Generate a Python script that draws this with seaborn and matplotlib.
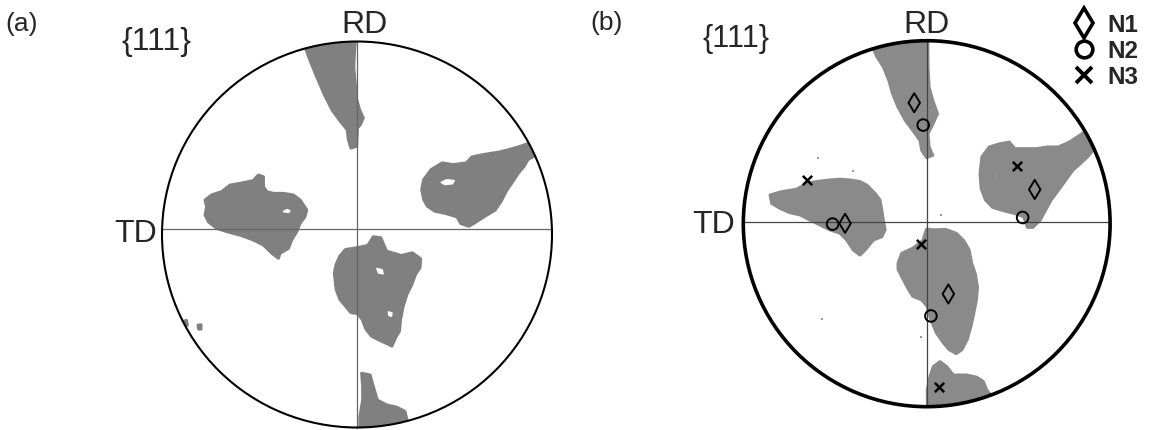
import numpy as np
import pandas as pd
import matplotlib
matplotlib.use("Agg")
import matplotlib.pyplot as plt
import seaborn as sns
from matplotlib.patches import Circle, Polygon
from matplotlib.lines import Line2D

sns.set_theme(style="white")
plt.rcParams['font.family'] = ['Liberation Sans', 'DejaVu Sans']

# Pole figure data, in unit-circle coordinates (u = TD axis, v = RD axis)
# (a) grey orientation clusters
a_top = [(-0.30, 1.08), (-0.005, 1.08), (-0.017, 0.871), (-0.002, 0.70), (0.013, 0.647),
         (0.032, 0.603), (0.017, 0.569), (0.002, 0.552), (-0.002, 0.457), (-0.031, 0.448),
         (-0.044, 0.491), (-0.050, 0.543), (-0.088, 0.590), (-0.128, 0.645), (-0.165, 0.720),
         (-0.207, 0.818), (-0.240, 0.900), (-0.262, 0.960)]
a_right = [(0.332, 0.233), (0.342, 0.284), (0.380, 0.336), (0.437, 0.371), (0.494, 0.362),
           (0.561, 0.371), (0.590, 0.402), (0.647, 0.414), (0.723, 0.426), (0.781, 0.440),
           (0.838, 0.457), (0.93, 0.49), (0.95, 0.43), (0.876, 0.388), (0.857, 0.353),
           (0.828, 0.319), (0.800, 0.276), (0.765, 0.224), (0.739, 0.172), (0.708, 0.126),
           (0.656, 0.095), (0.609, 0.064), (0.574, 0.043), (0.532, 0.057), (0.513, 0.091),
           (0.456, 0.109), (0.399, 0.121), (0.361, 0.147), (0.342, 0.181)]
a_left = [(-0.779, 0.179), (-0.771, 0.144), (-0.779, 0.101), (-0.762, 0.066), (-0.719, 0.032),
          (-0.668, 0.015), (-0.600, -0.003), (-0.532, -0.028), (-0.480, -0.054), (-0.437, -0.097),
          (-0.403, -0.123), (-0.395, -0.097), (-0.352, -0.072), (-0.335, -0.028), (-0.309, 0.015),
          (-0.292, 0.058), (-0.267, 0.092), (-0.258, 0.127), (-0.292, 0.179), (-0.327, 0.205),
          (-0.378, 0.213), (-0.429, 0.213), (-0.463, 0.222), (-0.480, 0.248), (-0.480, 0.299),
          (-0.506, 0.308), (-0.532, 0.279), (-0.600, 0.265), (-0.651, 0.256), (-0.694, 0.222),
          (-0.745, 0.205)]
a_low = [(-0.088, -0.112), (-0.059, -0.078), (-0.002, -0.069), (0.055, -0.057), (0.084, -0.012),
         (0.122, -0.017), (0.151, -0.086), (0.227, -0.109), (0.284, -0.095), (0.326, -0.126),
         (0.323, -0.172), (0.300, -0.207), (0.281, -0.259), (0.256, -0.310), (0.237, -0.371),
         (0.223, -0.440), (0.218, -0.500), (0.198, -0.534), (0.179, -0.578), (0.151, -0.564),
         (0.113, -0.547), (0.074, -0.526), (0.046, -0.491), (0.027, -0.440), (0.002, -0.409),
         (-0.031, -0.405), (-0.059, -0.371), (-0.088, -0.336), (-0.107, -0.284), (-0.116, -0.198),
         (-0.107, -0.155)]
a_bottom = [(0.024, -0.719), (0.067, -0.728), (0.084, -0.789), (0.104, -0.858), (0.152, -0.883),
            (0.204, -0.895), (0.246, -0.917), (0.27, -1.02), (0.015, -1.05), (0.015, -0.944),
            (0.029, -0.858), (0.029, -0.789)]
a_speck1 = [(-0.89, -0.45), (-0.875, -0.445), (-0.87, -0.47), (-0.885, -0.475)]
a_speck2 = [(-0.815, -0.47), (-0.80, -0.468), (-0.80, -0.49), (-0.812, -0.49)]
a_holes = [
    [(0.43, 0.27), (0.46, 0.285), (0.50, 0.28), (0.49, 0.262), (0.45, 0.258)],
    [(-0.38, 0.118), (-0.36, 0.130), (-0.342, 0.124), (-0.35, 0.113)],
    [(0.10, -0.175), (0.13, -0.182), (0.135, -0.205), (0.11, -0.20)],
    [(0.16, -0.40), (0.18, -0.405), (0.178, -0.425), (0.162, -0.42)],
]

# (b) grey orientation clusters
b_top = [(-0.33, 1.06), (0.005, 1.06), (0.007, 0.855), (0.013, 0.746), (0.033, 0.673),
         (0.059, 0.601), (0.033, 0.543), (0.007, 0.492), (0.013, 0.419), (0.033, 0.374),
         (-0.001, 0.361), (-0.027, 0.401), (-0.037, 0.456), (-0.076, 0.510), (-0.116, 0.564),
         (-0.156, 0.637), (-0.186, 0.710), (-0.206, 0.782), (-0.235, 0.855), (-0.275, 0.918)]
b_right = [(0.291, 0.274), (0.301, 0.365), (0.341, 0.419), (0.400, 0.437), (0.450, 0.446),
           (0.480, 0.410), (0.539, 0.410), (0.599, 0.410), (0.658, 0.419), (0.718, 0.419),
           (0.778, 0.446), (0.86, 0.50), (0.93, 0.43), (0.877, 0.365), (0.837, 0.328),
           (0.797, 0.292), (0.758, 0.238), (0.718, 0.183), (0.678, 0.129), (0.648, 0.074),
           (0.619, 0.020), (0.579, -0.020), (0.549, -0.020), (0.529, 0.038), (0.480, 0.056),
           (0.420, 0.071), (0.360, 0.089), (0.321, 0.129), (0.297, 0.192)]
b_left = [(-0.854, 0.157), (-0.791, 0.175), (-0.709, 0.188), (-0.654, 0.221), (-0.600, 0.230),
          (-0.527, 0.239), (-0.473, 0.243), (-0.418, 0.239), (-0.364, 0.230), (-0.327, 0.211),
          (-0.282, 0.166), (-0.255, 0.130), (-0.245, 0.075), (-0.237, 0.020), (-0.227, -0.034),
          (-0.245, -0.071), (-0.291, -0.089), (-0.336, -0.144), (-0.364, -0.171), (-0.400, -0.144),
          (-0.436, -0.089), (-0.473, -0.052), (-0.527, -0.034), (-0.582, -0.007), (-0.636, 0.020),
          (-0.691, 0.048), (-0.745, 0.060), (-0.800, 0.084), (-0.845, 0.111)]
b_low = [(-0.156, -0.216), (-0.136, -0.162), (-0.076, -0.134), (-0.021, -0.093), (-0.001, -0.030),
         (0.043, -0.034), (0.102, -0.031), (0.162, -0.053), (0.202, -0.093), (0.231, -0.143),
         (0.245, -0.216), (0.265, -0.274), (0.277, -0.347), (0.271, -0.416), (0.257, -0.488),
         (0.241, -0.561), (0.221, -0.633), (0.192, -0.688), (0.162, -0.710), (0.122, -0.688),
         (0.092, -0.652), (0.053, -0.597), (0.023, -0.525), (0.003, -0.452), (-0.027, -0.416),
         (-0.076, -0.397), (-0.106, -0.347), (-0.136, -0.289), (-0.156, -0.249)]
b_bottom = [(0.036, -0.781), (0.073, -0.754), (0.109, -0.781), (0.145, -0.827), (0.218, -0.827),
            (0.273, -0.839), (0.309, -0.863), (0.327, -0.909), (0.37, -0.96), (0.005, -1.05),
            (0.003, -0.909), (0.018, -0.836)]
b_specks_u = [-0.59, -0.40, 0.38, -0.57, 0.08, -0.03]
b_specks_v = [0.36, 0.29, 0.26, -0.52, 0.05, -0.62]

# (b) variant orientations
n1_u = [-0.068, -0.445, 0.589, 0.118]
n1_v = [0.661, 0.002, 0.187, -0.384]
n2_u = [-0.019, -0.513, 0.523, 0.023]
n2_v = [0.539, -0.002, 0.034, -0.504]
n3_u = [0.490, -0.654, -0.033, 0.069]
n3_v = [0.316, 0.239, -0.111, -0.894]

W, H = 1151, 430
fig = plt.figure(figsize=(W / 100, H / 100), dpi=100)
fig.patch.set_facecolor('white')


def pole_axes(cx, cy, rx, ry, pad=1.08):
    ax = fig.add_axes([(cx - rx * pad) / W, (H - cy - ry * pad) / H,
                       2 * rx * pad / W, 2 * ry * pad / H])
    ax.set_xlim(-pad, pad)
    ax.set_ylim(-pad, pad)
    ax.axis('off')
    return ax


def draw_pole(ax, blobs, grey, ring_lw, cross_color, h_off):
    ring = Circle((0, 0), 1.0, transform=ax.transData, facecolor='none')
    for pts in blobs:
        p = Polygon(pts, closed=True, facecolor=grey, edgecolor=grey, lw=2.2, joinstyle='round')
        ax.add_patch(p)
        p.set_clip_path(ring)
    half = np.sqrt(1 - h_off ** 2)
    sns.lineplot(x=[-half, half], y=[h_off, h_off], color=cross_color, lw=0.9, ax=ax)
    sns.lineplot(x=[0, 0], y=[-1, 1], color=cross_color, lw=0.9, ax=ax, orient='y')
    ax.add_patch(Circle((0, 0), 1.0, facecolor='none', edgecolor='black', lw=ring_lw, zorder=4))


# panel (a)
ax_a = pole_axes(357, 234.5, 195, 193)
draw_pole(ax_a, [a_top, a_right, a_left, a_low, a_bottom, a_speck1, a_speck2],
          '#808080', 1.5, '#666666', 0.027)
for hole in a_holes:
    ax_a.add_patch(Polygon(hole, closed=True, facecolor='white', edgecolor='white', lw=0.8))

# panel (b)
ax_b = pole_axes(926.7, 223.7, 183.4, 183)
draw_pole(ax_b, [b_top, b_right, b_left, b_low, b_bottom], '#8a8a8a', 2.6, '#444444', 0.009)
sns.scatterplot(x=b_specks_u, y=b_specks_v, marker='s', s=3, color='#9a9a9a', linewidth=0,
                ax=ax_b, legend=False)
sns.scatterplot(x=n1_u, y=n1_v, marker='d', s=95, facecolor='none', edgecolor='black',
                linewidth=1.4, ax=ax_b, legend=False, zorder=5)
sns.scatterplot(x=n2_u, y=n2_v, marker='o', s=70, facecolor='none', edgecolor='black',
                linewidth=1.4, ax=ax_b, legend=False, zorder=5)
sns.scatterplot(x=n3_u, y=n3_v, marker='x', s=45, color='black',
                linewidth=1.8, ax=ax_b, legend=False, zorder=5)


def label(x, y, s, size, ha='left', weight='normal'):
    fig.text(x / W, 1 - y / H, s, ha=ha, va='baseline', fontsize=size, weight=weight)


label(5, 31, '(a)', 19)
label(121, 50, '{111}', 23)
label(364, 33, 'RD', 23, ha='center')
label(157, 242, 'TD', 23, ha='right')

label(590, 30, '(b)', 19)
label(702, 47, '{111}', 22)
label(926, 33, 'RD', 23, ha='center')
label(735, 233, 'TD', 23, ha='right')

handles = [
    Line2D([], [], ls='none', marker='d', ms=15, mfc='none', mec='black', mew=2.6, label='N1'),
    Line2D([], [], ls='none', marker='o', ms=12, mfc='none', mec='black', mew=2.6, label='N2'),
    Line2D([], [], ls='none', marker='x', ms=12, mec='black', mew=2.8, label='N3'),
]
fig.legend(handles=handles, loc='upper left', bbox_to_anchor=(1072 / W, 1 - 14 / H),
           frameon=False, handlelength=1.0, handletextpad=0.45, labelspacing=0.12,
           borderpad=0, borderaxespad=0, prop={'weight': 'bold', 'size': 17.5})

fig.savefig('out.png', dpi=100, facecolor='white')
